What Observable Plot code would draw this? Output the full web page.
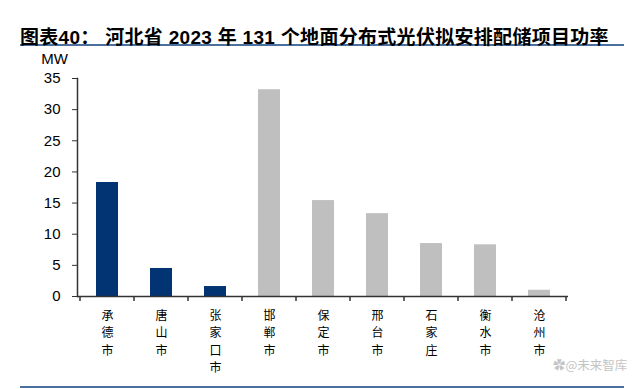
<!DOCTYPE html>
<html><head><meta charset="utf-8">
<script src="https://cdn.jsdelivr.net/npm/d3@7"></script>
<script src="https://cdn.jsdelivr.net/npm/@observablehq/plot@0.6"></script>
<style>
body{margin:0;background:#fff;}
#wrap{position:relative;width:640px;height:389px;overflow:hidden;background:#fff;}
#title{position:absolute;left:20px;top:0;width:604px;height:46px;box-sizing:border-box;padding-top:22px;line-height:21px;border-bottom:2px solid #4B70A0;font:bold 19px "Liberation Sans","Noto Sans CJK SC",sans-serif;letter-spacing:0.3px;color:#000;white-space:nowrap;}
#chart{position:absolute;left:0;top:50px;}
#bottomline{position:absolute;left:20px;top:386px;width:604px;height:0;border-top:2px solid #4B70A0;}
#wm{position:absolute;left:553px;top:355px;font:12.5px "Noto Sans CJK SC",sans-serif;color:#c4c4c4;white-space:nowrap;}
</style></head>
<body>
<div id="wrap">
  <div id="title">图表40： 河北省 2023 年 131 个地面分布式光伏拟安排配储项目功率</div>
  <div id="chart"></div>
  <div id="wm">✿@未来智库</div>
  <div id="bottomline"></div>
</div>
<script>
const cities = ["承德市","唐山市","张家口市","邯郸市","保定市","邢台市","石家庄","衡水市","沧州市"];
const power = [18.3, 4.5, 1.6, 33.2, 15.4, 13.3, 8.5, 8.3, 1.0];
const grid = ["冀北","冀北","冀北","冀南","冀南","冀南","冀南","冀南","冀南"];
const yTicks = [0, 5, 10, 15, 20, 25, 30, 35];
const unitLabel = "MW";

const data = cities.map((c, i) => ({city: c, value: power[i], grid: grid[i]}));

const chart = Plot.plot({
  width: 640,
  height: 339,
  marginTop: 28,
  marginBottom: 93,
  marginLeft: 77,
  marginRight: 72,
  style: {background: "transparent", color: "#000"},
  x: {domain: cities, paddingInner: 0.6, paddingOuter: 0.3, axis: null},
  y: {domain: [0, 35], axis: null},
  color: {domain: ["冀北", "冀南"], range: ["#023373", "#BFBFBF"]},
  marks: [
    Plot.barY(data, {x: "city", y: "value", fill: "grid"}),
    Plot.axisY({ticks: yTicks, tickSize: 5, tickPadding: 12, fontSize: 15, fontFamily: "Liberation Sans, Arial, sans-serif", label: null, stroke: "#333"}),
    Plot.axisX({tickSize: 0, tickPadding: 11, tickFormat: d => d.split("").join("\n"), lineHeight: 1.45, fontSize: 12, fontFamily: "Noto Sans CJK SC, sans-serif", label: null}),
    Plot.ruleY([0], {stroke: "#333", strokeWidth: 1.5}),
    Plot.frame({anchor: "left", stroke: "#333", strokeWidth: 1.5}),
    Plot.text([unitLabel], {frameAnchor: "top-left", dx: -23, dy: -25, text: d => d, fontSize: 15, fontFamily: "Liberation Sans, Arial, sans-serif", textAnchor: "middle"})
  ]
});

// boundary ticks on the category axis
const xs = chart.scale("x");
const ys = chart.scale("y");
const y0 = ys.apply(0);
const gap = (xs.step - xs.bandwidth) / 2;
const bounds = cities.map(c => xs.apply(c) - gap);
bounds.push(xs.apply(cities[cities.length - 1]) + xs.bandwidth + gap);
d3.select(chart).append("g")
  .attr("stroke", "#333").attr("stroke-width", 1.5)
  .selectAll("line").data(bounds).join("line")
  .attr("x1", d => d).attr("x2", d => d)
  .attr("y1", y0).attr("y2", y0 + 5);

document.getElementById("chart").appendChild(chart);
</script>
</body></html>
